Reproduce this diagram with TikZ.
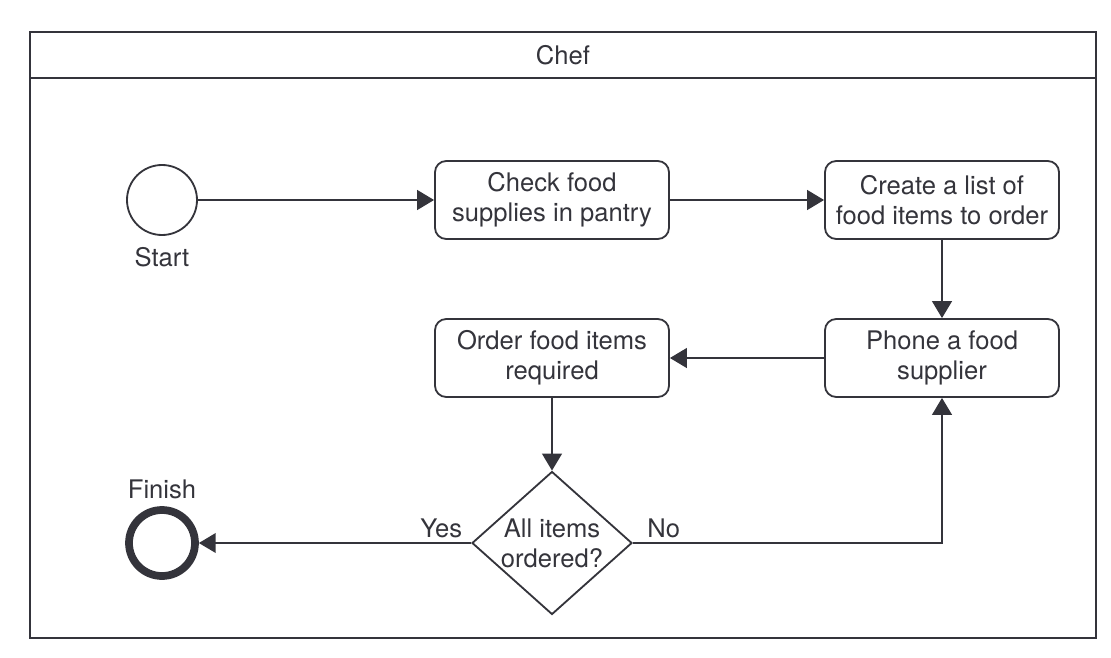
\documentclass[tikz,border=0pt]{standalone}
\usepackage{fontspec}
\setmainfont{TeX Gyre Heros}
\usetikzlibrary{shapes.geometric,arrows.meta}
\definecolor{ink}{HTML}{34343B}

\begin{document}
\begin{tikzpicture}[node distance=9.75cm,line width=1.3pt,color=ink,
                    font=\fontsize{18.2}{21.5}\selectfont,
                    >={Triangle[length=12pt,width=14pt]},
                    task node/.style={rectangle,rounded corners=0.28cm,draw,align=center,
                                      minimum width=5.85cm,minimum height=1.95cm},
                    start node/.style={circle,draw,minimum size=1.75cm},
                    end node/.style={circle,draw,line width=5.5pt,minimum size=1.65cm},
                    choice node/.style={diamond,draw,align=center,inner sep=0pt,aspect=1.12,
                                        minimum width=4cm,minimum height=3.575cm}]

       \useasboundingbox (-4.05,-11.425) rectangle (23.725,5);

       % swimlane
       \draw (-3.3,-10.95) rectangle (23.35,4.2);
       \draw (-3.3,3.05) -- (23.35,3.05);
       \node (0) at (10.025,3.625) {Chef};

       \node[start node, label={[label distance=4pt]below:Start}] (1) {};
       \node[task node] (2) [right of=1] {Check food\\supplies in pantry};
       \node[task node] (3) [right of=2] {Create a list of\\food items to order};
       \node[task node] (4) [below of=3, node distance=3.95cm] {Phone a food\\supplier};
       \node[task node] (5) [left of=4] {Order food items\\required};
       \node[choice node] (6) [below of=5, node distance=4.625cm] {All items\\ordered?};
       \node[end node, label={[label distance=1pt]above:Finish}] (7) [left of=6] {};

       \path[->]
         (1) edge node {} (2)
         (2) edge node {} (3)
         (3) edge node {} (4)
         (4) edge node {} (5)
         (5) edge node {} (6)
         (6) edge node [pos=0.11,above] {Yes} (7);
       \draw[->] (6) -| node [pos=0.05,above] {No} (4);

    \end{tikzpicture}
\end{document}
